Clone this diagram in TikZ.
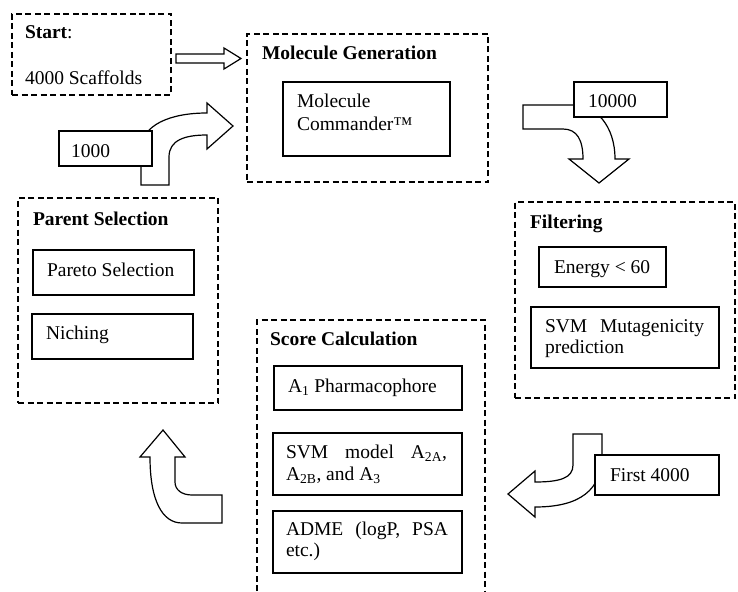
\documentclass[tikz,border=0pt]{standalone}
\usepackage{fontspec}
\setmainfont{Liberation Serif}
\newcommand\fsz{\fontsize{19.5}{21.5}\selectfont}
\begin{document}
\begin{tikzpicture}[x=1pt,y=-1pt,
  dline/.style={draw, dash pattern=on 6pt off 3.5pt, line width=1.6pt},
  dbox/.style={dline, anchor=north west, inner sep=0pt, outer sep=0pt},
  sbox/.style={draw, line width=1.2pt, fill=white, anchor=north west, inner sep=0pt, outer sep=0pt},
  txt/.style={anchor=base west, inner sep=0pt, outer sep=0pt, font=\fsz},
  ttl/.style={txt, font=\fsz\bfseries},
  jtxt/.style={txt, text width=#1, align=left},
  blockarrow/.style={draw, line width=1.2pt, fill=white, line join=miter}]
\useasboundingbox (0,0) rectangle (738,591);
\fill[white] (0,0) rectangle (738,591);

% dashed group boxes
\node[dbox, minimum width=159pt, minimum height=81pt] (start) at (12,14) {};
\node[dbox, minimum width=241pt, minimum height=148pt] (molgen) at (247,34) {};
\node[dbox, minimum width=220pt, minimum height=196pt] (filter) at (515,202) {};
\node[dbox, minimum width=200pt, minimum height=205pt] (parent) at (18,198) {};
\coordinate (scBL) at (257,591);
\coordinate (scTL) at (257,320);
\coordinate (scTR) at (485,320);
\coordinate (scBR) at (485,591);
\draw[dline] (scBL) -- (scTL) -- (scTR) -- (scBR);

% inner boxes
\node[sbox, minimum width=167pt, minimum height=74pt] (mc) at (283,82) {};
\node[sbox, minimum width=127pt, minimum height=40pt] (energy) at (539,247) {};
\node[sbox, minimum width=188pt, minimum height=61pt] (svmmut) at (531,307) {};
\node[sbox, minimum width=161pt, minimum height=45pt] (pareto) at (33,250) {};
\node[sbox, minimum width=161pt, minimum height=45pt] (niching) at (32,314) {};
\node[sbox, minimum width=188pt, minimum height=44pt] (a1) at (274,366) {};
\node[sbox, minimum width=189pt, minimum height=62pt] (svmmod) at (273,433) {};
\node[sbox, minimum width=189pt, minimum height=62pt] (adme) at (273,511) {};

% block arrows
\draw[blockarrow] (176,54) -- (224,54) -- (224,48) -- (241,58.5) -- (224,69) -- (224,63) -- (176,63) -- cycle;
\draw[blockarrow] (141,185) -- (141,150) .. controls (141,125) and (170,113) .. (207,113)
  -- (207,103) -- (233,126) -- (207,149) -- (207,135)
  .. controls (185,135) and (169,140) .. (169,157) -- (169,185) -- cycle;
\draw[blockarrow] (523,105) -- (574,105) .. controls (595,105) and (615,125) .. (615,159)
  -- (629,159) -- (599,183) -- (569,159) -- (583,159)
  .. controls (583,140) and (577,129) .. (563,129) -- (523,129) -- cycle;
\draw[blockarrow] (602,434) -- (573,434) -- (573,465) .. controls (573,478) and (560,482) .. (535,482)
  -- (535,471) -- (508,494) -- (535,517) -- (535,507)
  .. controls (580,507) and (602,490) .. (602,455) -- cycle;
\draw[blockarrow] (150,457) -- (140,457) -- (163,430) -- (185,457) -- (175,457) -- (175,482)
  .. controls (175,490) and (182,495) .. (192,495) -- (222,495) -- (222,523) -- (182,523)
  .. controls (162,523) and (150,500) .. (150,457) -- cycle;

% number boxes
\node[sbox, minimum width=93pt, minimum height=35pt] (n1000) at (59,131) {};
\node[sbox, minimum width=93pt, minimum height=35pt] (n10000) at (574,82) {};
\node[sbox, minimum width=124pt, minimum height=40pt] (n4000) at (595,455) {};

% texts
\node[txt] (tStart) at (25,39) {{\bfseries Start}:};
\node[txt] (tScaf) at (25,85) {4000 Scaffolds};
\node[ttl] (tMG) at (262,60) {Molecule Generation};
\node[txt] (tMC1) at (297,108) {Molecule};
\node[txt] (tMC2) at (297,130) {Commander™};
\node[txt] (t1000) at (71,157) {1000};
\node[txt] (t10000) at (588,107) {10000};
\node[ttl] (tFil) at (530,228) {Filtering};
\node[txt] (tEn) at (554,273) {Energy < 60};
\node[jtxt=159pt] (tSM1) at (545,332) {SVM\hfill Mutagenicity};
\node[txt] (tSM2) at (545,353) {prediction};
\node[ttl] (tPS) at (33,225) {Parent Selection};
\node[txt] (tPa) at (47,276) {Pareto Selection};
\node[txt] (tNi) at (46,339) {Niching};
\node[ttl] (tSC) at (270,345) {Score Calculation};
\node[txt] (tA1) at (288,392) {A\textsubscript{1} Pharmacophore};
\node[jtxt=161pt] (tSV1) at (286,458) {SVM\hfill model\hfill A\textsubscript{2A},};
\node[txt] (tSV2) at (286,480) {A\textsubscript{2B}, and A\textsubscript{3}};
\node[jtxt=162pt] (tAD1) at (286,535) {ADME\hfill (logP,\hfill PSA};
\node[txt] (tAD2) at (286,556) {etc.)};
\node[txt] (tF4) at (610,481) {First 4000};
\end{tikzpicture}
\end{document}
